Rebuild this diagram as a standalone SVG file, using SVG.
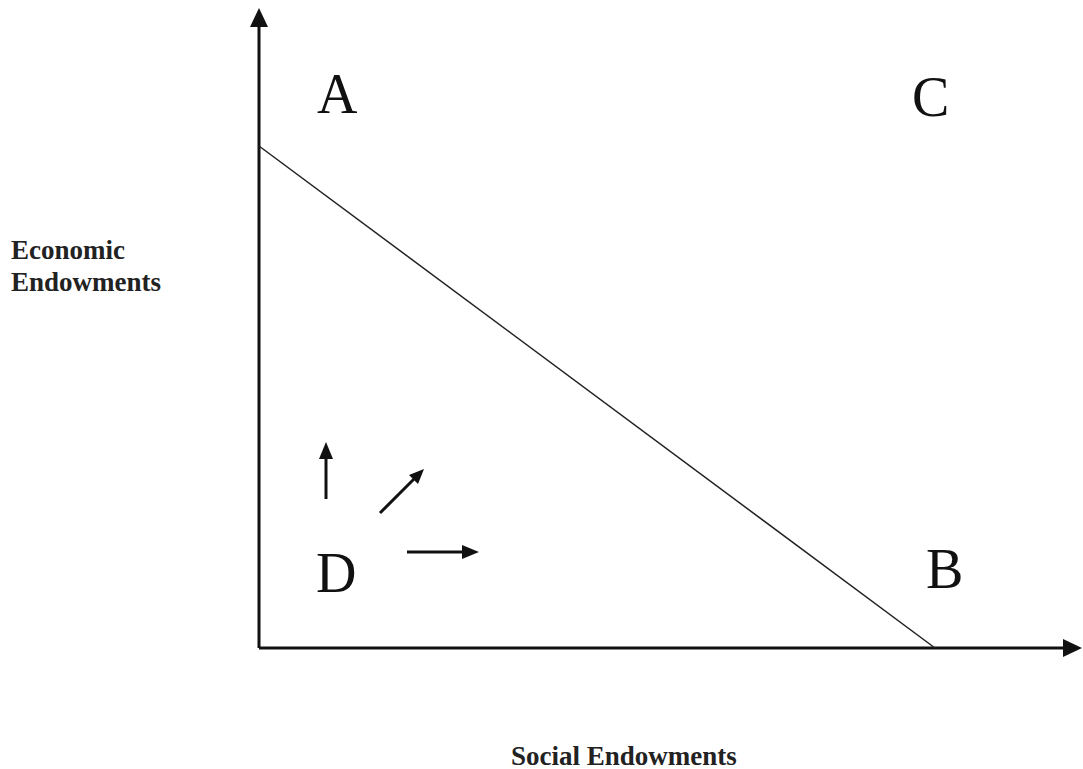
<svg xmlns="http://www.w3.org/2000/svg" width="1083" height="769" viewBox="0 0 1083 769">
<style>
.big{font-family:"Liberation Serif",serif;font-size:56px;fill:#111}
.lab{font-family:"Liberation Serif",serif;font-size:27px;font-weight:bold;fill:#222}
.ax{stroke:#111;stroke-width:3;fill:none}
.sm{stroke:#111;stroke-width:3;fill:none}
</style>
<rect width="1083" height="769" fill="#fff"/>
<g id="connectors">
<line class="ax" x1="259" y1="648" x2="259" y2="24"/>
<path d="M250,27 L259,8 L268,27 z" fill="#111"/>
<line class="ax" x1="259" y1="648" x2="1066" y2="648"/>
<path d="M1063,639 L1082,648 L1063,657 z" fill="#111"/>
<line x1="259" y1="146" x2="935" y2="648" stroke="#222" stroke-width="1.5"/>
<line class="sm" x1="326" y1="499" x2="326" y2="455"/>
<path d="M319,459 L326,442 L333,459 z" fill="#111"/>
<line class="sm" x1="380" y1="513" x2="415" y2="478"/>
<path d="M409,475 L424,469 L418,484 z" fill="#111"/>
<line class="sm" x1="407" y1="552" x2="466" y2="552"/>
<path d="M462,545 L479,552 L462,559 z" fill="#111"/>
</g>
<g id="A"><text class="big" x="317" y="113">A</text></g>
<g id="C"><text class="big" x="912" y="116">C</text></g>
<g id="D"><text class="big" x="316" y="592">D</text></g>
<g id="B"><text class="big" x="926" y="588">B</text></g>
<g id="yLabel"><text class="lab" x="11" y="259" font-size="25">Economic</text><text class="lab" x="11" y="291" font-size="25">Endowments</text></g>
<g id="xLabel"><text class="lab" x="511" y="765">Social Endowments</text></g>
</svg>
